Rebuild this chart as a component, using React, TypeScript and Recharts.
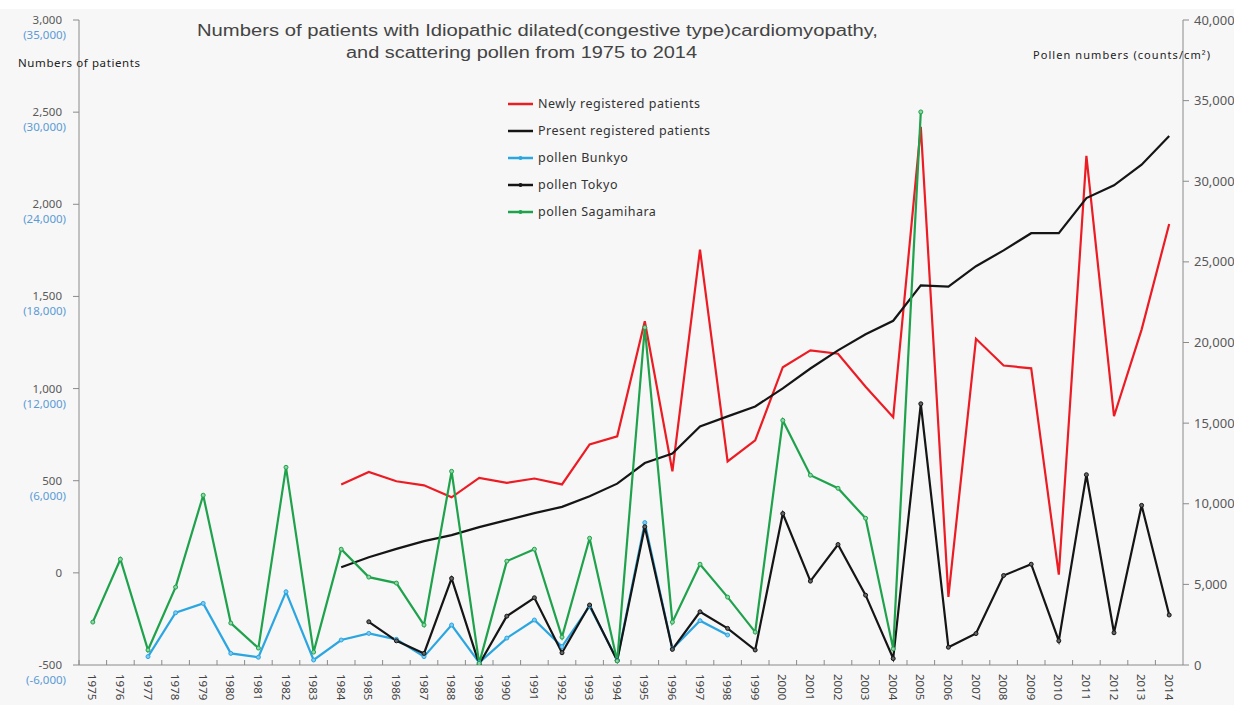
import React from 'react';
import { LineChart, Line, XAxis, YAxis, Legend } from 'recharts';

const years = [
  '1975', '1976', '1977', '1978', '1979', '1980', '1981', '1982', '1983', '1984',
  '1985', '1986', '1987', '1988', '1989', '1990', '1991', '1992', '1993', '1994',
  '1995', '1996', '1997', '1998', '1999', '2000', '2001', '2002', '2003', '2004',
  '2005', '2006', '2007', '2008', '2009', '2010', '2011', '2012', '2013', '2014',
];

// patients (left axis)
const newlyRegistered = [
  null, null, null, null, null, null, null, null, null, 480,
  547, 497, 475, 410, 515, 488, 512, 480, 697, 741,
  1365, 551, 1754, 605, 719, 1116, 1207, 1189, 1010, 845,
  2420, -130, 1270, 1125, 1110, -10, 2263, 850, 1320, 1893,
];
const presentRegistered = [
  null, null, null, null, null, null, null, null, null, 30,
  85, 130, 172, 205, 248, 286, 324, 358, 416, 484,
  596, 647, 795, 849, 903, 1001, 1109, 1207, 1295, 1368,
  1560, 1553, 1664, 1750, 1843, 1843, 2034, 2103, 2215, 2371,
];

// pollen counts/cm2 (right axis)
const pollenBunkyo = [
  null, null, 520, 3240, 3820, 720, 480, 4540, 310, 1550,
  1960, 1590, 520, 2480, 150, 1670, 2790, 1140, 3650, 310,
  8830, 1000, 2750, 1860, null, null, null, null, null, null,
  null, null, null, null, null, null, null, null, null, null,
];
const pollenTokyo = [
  null, null, null, null, null, null, null, null, null, null,
  2680, 1500, 720, 5370, 50, 3030, 4170, 760, 3720, 270,
  8570, 970, 3300, 2270, 930, 9390, 5200, 7470, 4330, 400,
  16200, 1100, 1950, 5550, 6250, 1500, 11800, 2000, 9900, 3100,
];
const pollenSagamihara = [
  2660, 6560, 930, 4830, 10530, 2600, 1050, 12260, 800, 7180,
  5450, 5080, 2480, 12010, 100, 6440, 7180, 1730, 7860, 250,
  20930, 2660, 6250, 4210, 2040, 15170, 11770, 10960, 9100, 1000,
  34300, null, null, null, null, null, null, null, null, null,
];

const leftTicks = [-500, 0, 500, 1000, 1500, 2000, 2500, 3000];
const leftAltLabels = ['(-6,000)', '', '(6,000)', '(12,000)', '(18,000)', '(24,000)', '(30,000)', '(35,000)'];
const rightTicks = [0, 5000, 10000, 15000, 20000, 25000, 30000, 35000, 40000];

const data = years.map((year, i) => ({
  year,
  newly: newlyRegistered[i],
  present: presentRegistered[i],
  bunkyo: pollenBunkyo[i],
  tokyo: pollenTokyo[i],
  sagamihara: pollenSagamihara[i],
}));

const RED = '#ec1c24';
const BLACK = '#151515';
const BLUE = '#2ba6e0';
const GREEN = '#1fa24c';
const AXIS = '#8a8a8a';
const TEXT = '#595959';
const ALT = '#5b9bd5';
const FONT = '"Noto Sans", "Liberation Sans", Arial, sans-serif';
const HALF_BAND = 13.8;

const legendItems = [
  { key: 'newly', label: 'Newly registered patients', color: RED, dot: false },
  { key: 'present', label: 'Present registered patients', color: BLACK, dot: false },
  { key: 'bunkyo', label: 'pollen Bunkyo', color: BLUE, dot: true },
  { key: 'tokyo', label: 'pollen Tokyo', color: BLACK, dot: true },
  { key: 'sagamihara', label: 'pollen Sagamihara', color: GREEN, dot: true },
];

function LegendBox() {
  return (
    <div style={{ fontFamily: FONT, fontSize: 12.5, letterSpacing: 0.5, color: '#333' }}>
      {legendItems.map((it) => (
        <div key={it.key} style={{ display: 'flex', alignItems: 'center', height: 27 }}>
          <svg width={30} height={10} style={{ display: 'block' }}>
            <line x1={0} y1={5} x2={25} y2={5} stroke={it.color} strokeWidth={2.5} />
            {it.dot && <circle cx={12.5} cy={5} r={2} fill={it.color} />}
          </svg>
          <span>{it.label}</span>
        </div>
      ))}
    </div>
  );
}

function LeftTick(props: any) {
  const { x, y, payload } = props;
  const v = payload.value as number;
  const alt = leftAltLabels[leftTicks.indexOf(v)];
  return (
    <g>
      <text x={x - 11} y={y} dy={4} textAnchor="end" fontSize={11.5} fill={TEXT}>
        {v.toLocaleString('en-US')}
      </text>
      {alt && (
        <text x={x - 7} y={y + 15} dy={4} textAnchor="end" fontSize={11.5} fill={ALT}>
          {alt}
        </text>
      )}
    </g>
  );
}

function YearTick(props: any) {
  const { x, y, payload } = props;
  return (
    <g>
      <line x1={x - HALF_BAND} y1={y - 5} x2={x - HALF_BAND} y2={y} stroke={AXIS} />
      <text transform={`translate(${x},${y + 9}) rotate(90)`} textAnchor="start" dominantBaseline="central"
        fontSize={11.5} fill="#444">
        {payload.value}
      </text>
    </g>
  );
}

export default function App() {
  return (
    <div style={{ position: 'absolute', left: 0, top: 0, width: 1234, height: 705, background: '#f7f7f7', overflow: 'hidden', fontFamily: FONT }}>
      <div style={{ position: 'absolute', left: 0, top: 0, width: 1234, height: 9, background: '#fff' }} />
      <LineChart width={1234} height={705} data={data} margin={{ top: 20, right: 0, bottom: 0, left: 0 }} style={{ fontFamily: FONT }}>
        <XAxis dataKey="year" interval={0} padding={{ left: HALF_BAND, right: HALF_BAND }} height={40}
          tickLine={false} tickSize={0} tickMargin={0} axisLine={{ stroke: AXIS }} tick={<YearTick />} />
        <YAxis yAxisId="left" domain={[-500, 3000]} ticks={leftTicks} width={79} tickSize={6} tickMargin={0}
          axisLine={{ stroke: AXIS }} tickLine={{ stroke: AXIS }} tick={<LeftTick />} allowDataOverflow />
        <YAxis yAxisId="right" orientation="right" domain={[0, 40000]} ticks={rightTicks} width={51} tickSize={6} tickMargin={5}
          axisLine={{ stroke: AXIS }} tickLine={{ stroke: AXIS }} tick={{ fill: TEXT, fontSize: 13 }}
          tickFormatter={(v: number) => v.toLocaleString('en-US')} allowDataOverflow />
        <Legend layout="vertical" align="center" verticalAlign="middle" content={() => <LegendBox />}
          wrapperStyle={{ top: 90, left: 508, width: 260, height: 140 }} />
        <Line yAxisId="left" dataKey="newly" name="Newly registered patients" stroke={RED} strokeWidth={2.2}
          dot={false} isAnimationActive={false} />
        <Line yAxisId="left" dataKey="present" name="Present registered patients" stroke={BLACK} strokeWidth={2.2}
          dot={false} isAnimationActive={false} />
        <Line yAxisId="right" dataKey="bunkyo" name="pollen Bunkyo" stroke={BLUE} strokeWidth={2.2}
          dot={{ r: 2, fill: '#7fcaf0', stroke: BLUE, strokeWidth: 1 }} isAnimationActive={false} />
        <Line yAxisId="right" dataKey="tokyo" name="pollen Tokyo" stroke={BLACK} strokeWidth={2.2}
          dot={{ r: 2, fill: '#666', stroke: BLACK, strokeWidth: 1 }} isAnimationActive={false} />
        <Line yAxisId="right" dataKey="sagamihara" name="pollen Sagamihara" stroke={GREEN} strokeWidth={2.2}
          dot={{ r: 2, fill: '#8fd6a4', stroke: GREEN, strokeWidth: 1 }} isAnimationActive={false} />
      </LineChart>
      <svg width={1234} height={705} style={{ position: 'absolute', left: 0, top: 0, pointerEvents: 'none' }}>
        <text x={537.5} y={36} textAnchor="middle" fontSize={16} fill="#444" fontFamily='"Liberation Sans", Arial, sans-serif'
          textLength={681} lengthAdjust="spacingAndGlyphs">
          Numbers of patients with Idiopathic dilated(congestive type)cardiomyopathy,
        </text>
        <text x={521.5} y={58} textAnchor="middle" fontSize={16} fill="#444" fontFamily='"Liberation Sans", Arial, sans-serif'
          textLength={351} lengthAdjust="spacingAndGlyphs">
          and scattering pollen from 1975 to 2014
        </text>
        <text x={18} y={67} fontSize={11.5} fill="#222" textLength={122} lengthAdjust="spacing">Numbers of patients</text>
        <text x={1033} y={59} fontSize={11} fill="#222" textLength={177} lengthAdjust="spacing">Pollen numbers (counts/cm²)</text>
      </svg>
    </div>
  );
}
